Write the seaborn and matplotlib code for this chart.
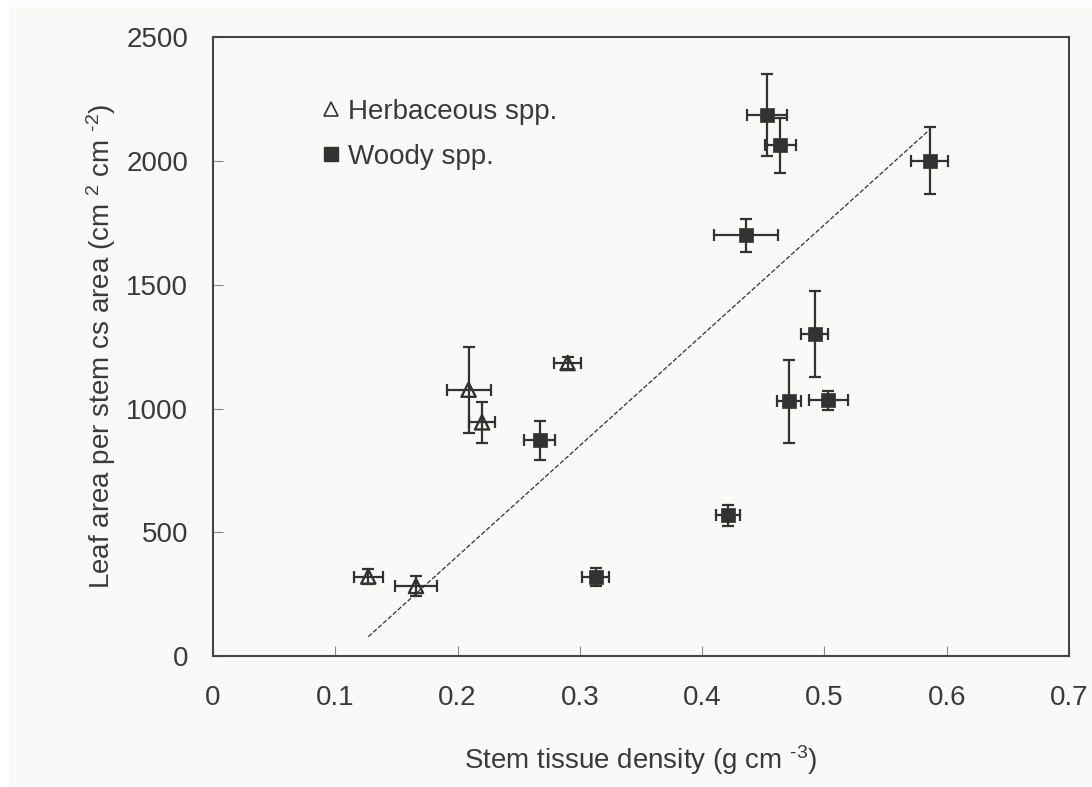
import matplotlib
matplotlib.use("Agg")
import matplotlib.pyplot as plt
from matplotlib.lines import Line2D
from matplotlib.patches import Rectangle
import numpy as np
import pandas as pd
import seaborn as sns

# Herbaceous species: stem tissue density vs leaf area per stem cross-section
herb_density = [0.127, 0.166, 0.209, 0.220, 0.290]
herb_density_se = [0.012, 0.017, 0.018, 0.011, 0.011]
herb_leaf_area = [321, 283, 1076, 944, 1184]
herb_leaf_area_se = [30, 40, 173, 82, 25]

# Woody species
woody_density = [0.267, 0.313, 0.421, 0.436, 0.453, 0.464, 0.471, 0.492, 0.503, 0.586]
woody_density_se = [0.013, 0.011, 0.010, 0.026, 0.016, 0.013, 0.010, 0.011, 0.016, 0.015]
woody_leaf_area = [871, 318, 568, 1700, 2187, 2063, 1029, 1301, 1033, 2002]
woody_leaf_area_se = [78, 37, 44, 67, 166, 110, 169, 174, 37, 134]

# Fitted trend across the pooled species
trend_density = [0.127, 0.587]
trend_leaf_area = [78, 2131]

x_ticks = [0, 0.1, 0.2, 0.3, 0.4, 0.5, 0.6, 0.7]
x_tick_labels = ["0", "0.1", "0.2", "0.3", "0.4", "0.5", "0.6", "0.7"]
y_ticks = [0, 500, 1000, 1500, 2000, 2500]

herb = pd.DataFrame({"density": herb_density, "density_se": herb_density_se,
                     "leaf_area": herb_leaf_area, "leaf_area_se": herb_leaf_area_se})
woody = pd.DataFrame({"density": woody_density, "density_se": woody_density_se,
                      "leaf_area": woody_leaf_area, "leaf_area_se": woody_leaf_area_se})
trend = pd.DataFrame({"density": trend_density, "leaf_area": trend_leaf_area})

sns.set_theme(style="white")
plt.rcParams["font.family"] = ["Liberation Sans", "DejaVu Sans"]
plt.rcParams["mathtext.fontset"] = "custom"
plt.rcParams["mathtext.rm"] = "Liberation Sans"
plt.rcParams["mathtext.it"] = "Liberation Sans"
plt.rcParams["mathtext.bf"] = "Liberation Sans:bold"

INK = "#323232"
TEXT = "#3a3a3a"
PAPER = "#f9f9f7"

fig = plt.figure(figsize=(10.92, 7.87), dpi=100, facecolor="white")
fig.patches.append(Rectangle((9 / 1092, 0), 1, (787 - 7) / 787,
                             transform=fig.transFigure, facecolor=PAPER,
                             edgecolor="none", zorder=-10))
ax = fig.add_axes([213 / 1092, (787 - 656) / 787, (1069 - 213) / 1092, (656 - 37.3) / 787])
ax.set_facecolor(PAPER)

# dashed trend line
sns.lineplot(data=trend, x="density", y="leaf_area", ax=ax, color=INK,
             linewidth=0.9, dashes=(7, 5), linestyle="--", zorder=1)

# error bars
for df in (herb, woody):
    ax.errorbar(df["density"], df["leaf_area"], xerr=df["density_se"],
                yerr=df["leaf_area_se"], fmt="none", ecolor=INK,
                elinewidth=1.6, capsize=4.5, capthick=1.6, zorder=2)

# markers
sns.scatterplot(data=woody, x="density", y="leaf_area", ax=ax, marker="s",
                s=95, color=INK, edgecolor=INK, linewidth=0.5, zorder=3)
ax.scatter(herb["density"], herb["leaf_area"], marker="^", s=105,
           facecolors="none", edgecolors=INK, linewidths=1.7, zorder=3)

ax.set_xlim(0, 0.7)
ax.set_ylim(0, 2500)
ax.set_xticks(x_ticks)
ax.set_xticklabels(x_tick_labels)
ax.set_yticks(y_ticks)
ax.tick_params(axis="both", direction="in", length=7, width=0.8, color="#888888",
               labelsize=20, labelcolor=TEXT, top=False, right=False,
               bottom=True, left=True)
ax.tick_params(axis="x", pad=21)
ax.tick_params(axis="y", pad=18)
for sp in ax.spines.values():
    sp.set_color("#444444")
    sp.set_linewidth(1.5)
    sp.set_visible(True)

HY = "\u2010"
ax.set_xlabel("Stem tissue density (g cm $^{" + HY + "3}$)", fontsize=20, color=TEXT,
              labelpad=23)
ax.set_ylabel("Leaf area per stem cs area (cm $^{2}$ cm $^{" + HY + "2}$)", fontsize=20,
              color=TEXT, labelpad=6)

handles = [
    Line2D([], [], linestyle="none", marker="^", markersize=10.5,
           markerfacecolor="none", markeredgecolor=INK, markeredgewidth=1.2),
    Line2D([], [], linestyle="none", marker="s", markersize=10,
           markerfacecolor=INK, markeredgecolor=INK),
]
ax.legend(handles, ["Herbaceous spp.", "Woody spp."], loc="upper left",
          bbox_to_anchor=(0.1285, 0.90), frameon=False, fontsize=20,
          handlelength=0.6, handletextpad=0.3, labelspacing=0.68,
          borderpad=0, borderaxespad=0, labelcolor=TEXT)

fig.savefig("out.png", dpi=100, facecolor=fig.get_facecolor())
